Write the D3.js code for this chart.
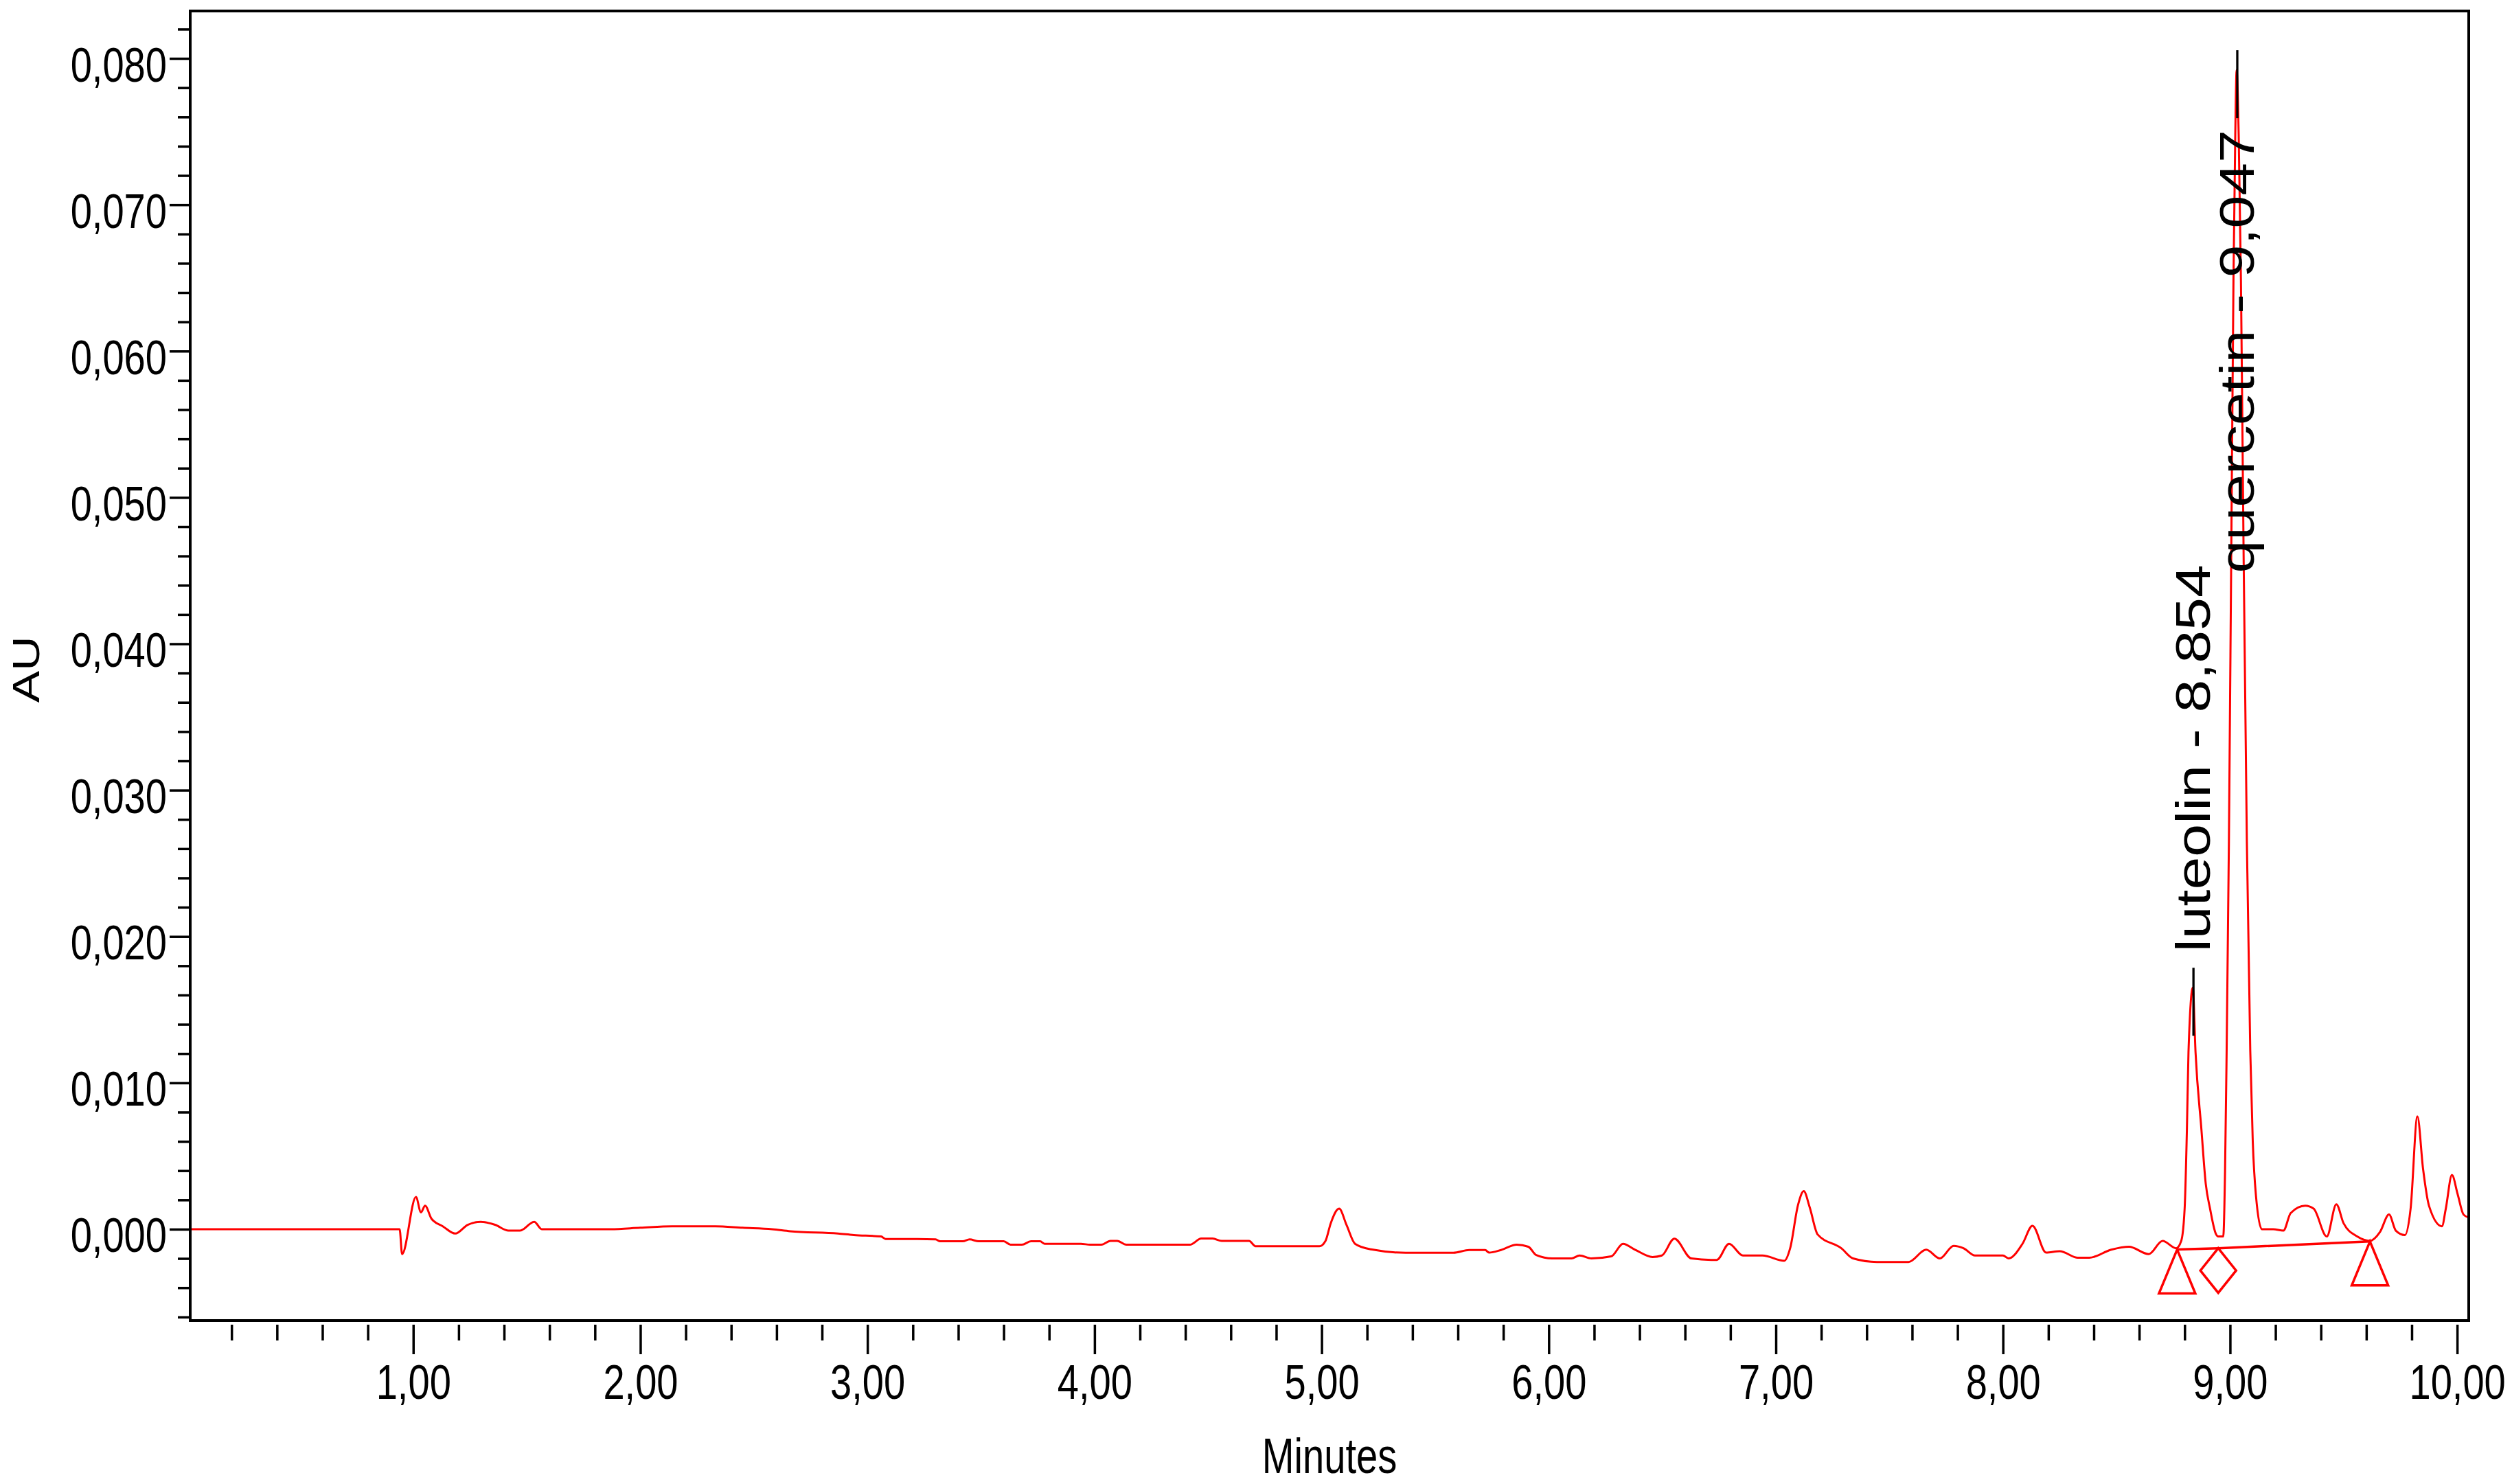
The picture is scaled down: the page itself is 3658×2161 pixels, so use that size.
<!DOCTYPE html>
<html>
<head>
<meta charset="utf-8">
<script src="https://cdn.jsdelivr.net/npm/d3@7"></script>
<style>
  html, body { margin: 0; padding: 0; background: #fff; }
  svg { display: block; }
  text { font-family: "Liberation Sans", Arial, "DejaVu Sans", sans-serif; fill: #000; }
</style>
</head>
<body>
<svg id="chart" width="3658" height="2161"></svg>
<script>
// ---------- data ----------
const traceTime = [0.018, 0.30, 0.60, 0.94, 0.951, 1.012, 1.034, 1.052, 1.081, 1.13, 1.185, 1.24, 1.297, 1.36, 1.42, 1.47, 1.533, 1.566,
  1.87, 2.00, 2.14, 2.33, 2.45, 2.58, 2.66, 2.87, 2.94, 3.06, 3.08, 3.22, 3.30, 3.32, 3.42, 3.45, 3.49, 3.60, 3.63, 3.68, 3.72, 3.76,
  3.78, 3.94, 3.98, 4.03, 4.07, 4.10, 4.14, 4.42, 4.47, 4.52, 4.56, 4.68, 4.71, 4.99, 5.017, 5.04, 5.077, 5.11, 5.147, 5.217, 5.37,
  5.58, 5.65, 5.72, 5.737, 5.79, 5.859, 5.91, 5.945, 6.015, 6.10, 6.136, 6.188, 6.275, 6.327, 6.38, 6.457, 6.498, 6.553, 6.628, 6.716,
  6.74, 6.794, 6.855, 6.941, 7.037, 7.063, 7.098, 7.123, 7.149, 7.184, 7.288, 7.34, 7.445, 7.584, 7.662, 7.722, 7.783, 7.826, 7.877,
  8.0, 8.025, 8.086, 8.13, 8.19, 8.25, 8.33, 8.38, 8.477, 8.555, 8.642, 8.703, 8.763, 8.785, 8.80, 8.81, 8.817, 8.836, 8.848, 8.874,
  8.893, 8.912, 8.937, 8.948, 8.97, 8.978, 8.985, 8.995, 9.005, 9.015, 9.023, 9.029, 9.038, 9.048, 9.060, 9.074, 9.089, 9.100, 9.114, 9.14,
  9.19, 9.235, 9.267, 9.331, 9.368, 9.426, 9.468, 9.50, 9.56, 9.616, 9.66, 9.70, 9.73, 9.77, 9.795, 9.825, 9.85, 9.876, 9.933, 9.95,
  9.977, 10.002, 10.028, 10.05];
const traceAU = [0, 0, 0, 0, -0.0017, 0.0022, 0.00115, 0.0016, 0.0007, 0.0002, -0.0003, 0.0003, 0.0005, 0.0003, -0.0001, -0.0001, 0.0005, 0.0,
  0.0, 0.0001, 0.0002, 0.0002, 0.0001, 0.0, -0.00014, -0.0003, -0.0004, -0.0005, -0.00067, -0.00067, -0.0007, -0.00083, -0.00083, -0.0007, -0.00083, -0.00083, -0.00106, -0.00106, -0.00083, -0.00083,
  -0.001, -0.001, -0.00106, -0.00106, -0.0008, -0.0008, -0.00106, -0.00106, -0.00064, -0.00064, -0.0008, -0.0008, -0.00117, -0.00117, -0.0008, 0.0004, 0.0014, 0.00027, -0.001, -0.00138, -0.00161,
  -0.00161, -0.00142, -0.00142, -0.0016, -0.00142, -0.00106, -0.0012, -0.00177, -0.002, -0.002, -0.0018, -0.002, -0.00186, -0.001, -0.0014, -0.0019, -0.0018, -0.00065, -0.002, -0.0021,
  -0.0021, -0.001, -0.0018, -0.0018, -0.00216, -0.0013, 0.00168, 0.0026, 0.0015, -0.00036, -0.0013, -0.002, -0.00224, -0.00224, -0.0014, -0.002, -0.00114, -0.0013, -0.0018,
  -0.0018, -0.002, -0.001, 0.00023, -0.0016, -0.0015, -0.00195, -0.00195, -0.0014, -0.0012, -0.0017, -0.0008, -0.0013, -0.0008, 0.0014, 0.0068, 0.0121, 0.0165, 0.0121, 0.0068,
  0.0031, 0.0014, -0.0003, -0.0005, -0.0005, 0.004, 0.0122, 0.0265, 0.0456, 0.0648, 0.0748, 0.0792, 0.0748, 0.0648, 0.0456, 0.0265, 0.0122, 0.0060, 0.0023, 0.0,
  0.0, -0.0001, 0.0011, 0.0016, 0.0014, -0.0005, 0.0017, 0.0004, -0.0005, -0.0008, -0.0002, 0.0010, -0.0001, -0.0004, 0.0014, 0.0077, 0.0041, 0.0016, 0.0002, 0.0014,
  0.0037, 0.0024, 0.0010, 0.0008];

const peakNames = ["luteolin - 8,854", "quercetin - 9,047"];
const peakRT = [8.854, 9.047];

const integTime = [8.767, 8.948, 9.616];
const integAU = [-0.00139, -0.0013, -0.00084];
const integMarker = ["triangle", "diamond", "triangle"];

const xMajorTicks = [1, 2, 3, 4, 5, 6, 7, 8, 9, 10];
const xTickLabels = ["1,00", "2,00", "3,00", "4,00", "5,00", "6,00", "7,00", "8,00", "9,00", "10,00"];
const yMajorTicks = [0, 0.01, 0.02, 0.03, 0.04, 0.05, 0.06, 0.07, 0.08];
const yTickLabels = ["0,000", "0,010", "0,020", "0,030", "0,040", "0,050", "0,060", "0,070", "0,080"];
const xTitle = "Minutes";
const yTitle = "AU";

// ---------- layout ----------
const L = 277, R = 3595, T = 16, B = 1923;
const SX = 0.79; // horizontal text compression
const svg = d3.select("#chart");

const x = d3.scaleLinear().domain([0.018, 10.051]).range([L, R]);
const y = d3.scaleLinear().domain([-0.006244, 0.08324]).range([B, T]);

const xMinor = d3.range(0.2, 10.05, 0.2).map(v => +v.toFixed(2)).filter(v => Math.abs(v - Math.round(v)) > 1e-6);
const yMinor = d3.range(-0.006, 0.0831, 0.002).map(v => +v.toFixed(3)).filter(v => Math.abs(v * 100 - Math.round(v * 100)) > 1e-6);

// X axis ticks
const gx = svg.append("g").attr("transform", `translate(0,${B + 6})`);
gx.call(d3.axisBottom(x).tickValues(xMinor).tickSize(23).tickFormat(""))
  .call(g => g.select(".domain").remove());
const gxM = svg.append("g").attr("transform", `translate(0,${B + 6})`);
gxM.call(d3.axisBottom(x).tickValues(xMajorTicks).tickSize(43).tickPadding(0)
  .tickFormat((d, i) => xTickLabels[i]))
  .call(g => g.select(".domain").remove());
gxM.selectAll("text")
  .attr("y", null).attr("dy", null)
  .attr("transform", `translate(0,${2037 - B - 6}) scale(${SX},1)`)
  .attr("font-size", 71)
  .attr("font-family", '"Liberation Sans", Arial, sans-serif')
  .attr("fill", "#000");

// Y axis ticks
const gy = svg.append("g").attr("transform", `translate(${L},0)`);
gy.call(d3.axisLeft(y).tickValues(yMinor).tickSize(18).tickFormat(""))
  .call(g => g.select(".domain").remove());
const gyM = svg.append("g").attr("transform", `translate(${L},0)`);
gyM.call(d3.axisLeft(y).tickValues(yMajorTicks).tickSize(30).tickPadding(0)
  .tickFormat((d, i) => yTickLabels[i]))
  .call(g => g.select(".domain").remove());
svg.selectAll("g.tick line").attr("stroke", "#000").attr("stroke-width", 3.5);
gyM.selectAll("text")
  .attr("x", null).attr("dy", null)
  .attr("text-anchor", "end")
  .attr("transform", `translate(-34,33) scale(${SX},1)`)
  .attr("font-size", 71)
  .attr("font-family", '"Liberation Sans", Arial, sans-serif')
  .attr("fill", "#000");

// Axis titles
svg.append("text")
  .attr("transform", `translate(${(L + R) / 2},2145) scale(0.78,1)`)
  .attr("text-anchor", "middle").attr("font-size", 72).text(xTitle);
svg.append("text")
  .attr("transform", `translate(57,975) scale(0.8,1) rotate(-90)`)
  .attr("text-anchor", "middle").attr("font-size", 70).text(yTitle);

// clip for plot
svg.append("clipPath").attr("id", "plotclip")
  .append("rect").attr("x", L).attr("y", T).attr("width", R - L).attr("height", B - T);

const plot = svg.append("g").attr("clip-path", "url(#plotclip)");

// peak labels (drawn first; trace overlays them)
const peakInfo = peakRT.map((rt, i) => {
  let apex = -Infinity;
  traceTime.forEach((t, j) => { if (Math.abs(t - rt) < 0.06 && traceAU[j] > apex) apex = traceAU[j]; });
  return { name: peakNames[i], rt, apex };
});
const labelG = svg.append("g");
peakInfo.forEach(p => {
  const lx = x(p.rt) - 5;
  const top = Math.max(y(p.apex) - 29, T + 56);
  const bottom = top + 99;
  p.lx = lx; p.top = top; p.bottom = bottom;
  const t = labelG.append("text")
    .attr("font-size", 86)
    .text(p.name);
  const len = t.node().getComputedTextLength();
  const startY = top - 23;
  if (startY - len > T + 10) {
    t.attr("text-anchor", "start")
     .attr("transform", `translate(${lx + 24},${startY}) scale(0.82,1) rotate(-90)`);
  } else {
    t.attr("text-anchor", "end")
     .attr("transform", `translate(${lx + 24},${bottom + 17}) scale(0.82,1) rotate(-90)`);
  }
});

// trace
const traceData = traceTime.map((t, i) => [t, traceAU[i]]);
const curve = d3.line().x(d => x(d[0])).y(d => y(d[1])).curve(d3.curveMonotoneX);
const straight = d3.line().x(d => x(d[0])).y(d => y(d[1]));
plot.append("path").datum(traceData)
  .attr("d", curve)
  .attr("fill", "none").attr("stroke", "#ff0000")
  .attr("stroke-width", 3).attr("stroke-linejoin", "round");

// integration baseline
const integData = integTime.map((t, i) => [t, integAU[i]]);
plot.append("path").datum(integData)
  .attr("d", straight)
  .attr("fill", "none").attr("stroke", "#ff0000").attr("stroke-width", 3.5);

// markers
svg.append("g").selectAll("path.marker").data(integData.map((d, i) => ({ d, type: integMarker[i] })))
  .join("path")
  .attr("class", "marker")
  .attr("fill", "none").attr("stroke", "#ff0000").attr("stroke-width", 3.5)
  .attr("d", m => {
    const px = x(m.d[0]), py = y(m.d[1]);
    const p = d3.path();
    if (m.type === "triangle") {
      p.moveTo(px, py); p.lineTo(px - 26.5, py + 64); p.lineTo(px + 26.5, py + 64); p.closePath();
    } else {
      p.moveTo(px, py); p.lineTo(px + 26, py + 32.5); p.lineTo(px, py + 65); p.lineTo(px - 26, py + 32.5); p.closePath();
    }
    return p.toString();
  });

// black apex lines
svg.append("g").selectAll("line.apex").data(peakInfo).join("line")
  .attr("class", "apex")
  .attr("x1", p => p.lx).attr("x2", p => p.lx)
  .attr("y1", p => p.top).attr("y2", p => p.bottom)
  .attr("stroke", "#000").attr("stroke-width", 3.3);

// frame
svg.append("rect").attr("x", L).attr("y", T).attr("width", R - L).attr("height", B - T)
  .attr("fill", "none").attr("stroke", "#000").attr("stroke-width", 4);
</script>
</body>
</html>
